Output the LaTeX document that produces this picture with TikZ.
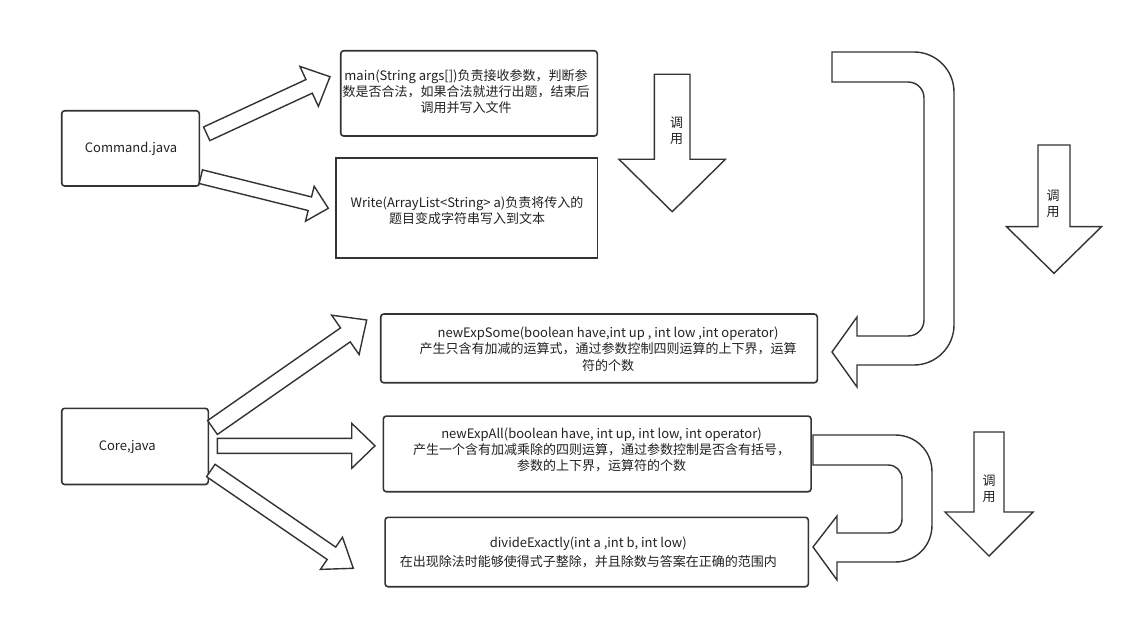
\documentclass[tikz,border=0pt]{standalone}
\usepackage{fontspec}
\setmainfont{Noto Sans CJK SC}
\usetikzlibrary{calc}
\definecolor{ln}{HTML}{333333}
\definecolor{tx}{HTML}{222222}
% #1 name, #2 tail coordinate, #3 tip coordinate, #4 half shaft width, #5 half head width, #6 head length
\newcommand\blockarrow[6]{%
  \coordinate (#1-c) at ($(#3)!#6!(#2)$);
  \draw[barrow] ($(#2)!#4!90:(#3)$) -- ($(#1-c)!#4!-90:(#2)$) -- ($(#1-c)!#5!-90:(#2)$)
    -- (#3) -- ($(#1-c)!#5!90:(#2)$) -- ($(#1-c)!#4!90:(#2)$) -- ($(#2)!#4!-90:(#3)$) -- cycle;
}
\begin{document}
\begin{tikzpicture}[x=1pt,y=-1pt,
  box/.style={draw=ln, line width=1.6pt, rounded corners=3pt, fill=white, inner sep=0pt},
  sqbox/.style={draw=ln, line width=1.6pt, fill=white, inner sep=0pt},
  barrow/.style={draw=ln, line width=1.4pt, fill=white, line join=miter},
  txt/.style={text=tx, align=center, inner sep=0pt, font=\fontsize{13}{16.3}\selectfont},
  vtxt/.style={text=tx, align=center, inner sep=0pt, font=\fontsize{13}{16}\selectfont}]
\useasboundingbox (0,0) rectangle (1133,620);

% boxes
\node[box, minimum width=137.6pt, minimum height=75.3pt] (cmd) at (130.5,148.4) {};
\node[box, minimum width=256.6pt, minimum height=85.3pt] (mainb) at (469,93.4) {};
\node[sqbox, minimum width=261.6pt, minimum height=100pt] (writeb) at (466.5,208.3) {};
\node[box, minimum width=436.6pt, minimum height=68.7pt] (some) at (599,348.4) {};
\node[box, minimum width=146.6pt, minimum height=76.2pt] (core) at (135,446.4) {};
\node[box, minimum width=427.7pt, minimum height=75.7pt] (all) at (597.2,453.9) {};
\node[box, minimum width=423.3pt, minimum height=69.4pt] (divb) at (596.7,552) {};

% block arrows from Command.java
\coordinate (a1s) at (206.7,133.8); \coordinate (a1e) at (330,76.7);
\blockarrow{a1}{a1s}{a1e}{7.5pt}{22pt}{23pt}
\coordinate (a2s) at (200.8,176.7); \coordinate (a2e) at (328.3,208.3);
\blockarrow{a2}{a2s}{a2e}{7pt}{18pt}{19pt}

% block arrows from Core,java
\coordinate (a3s) at (212.5,427.5); \coordinate (a3e) at (366.7,320);
\blockarrow{a3}{a3s}{a3e}{8.5pt}{24pt}{26pt}
\coordinate (a4s) at (217.3,445.8); \coordinate (a4e) at (375,445.8);
\blockarrow{a4}{a4s}{a4e}{7.5pt}{22.5pt}{23.3pt}
\coordinate (a5s) at (210.8,470.5); \coordinate (a5e) at (353.3,568.3);
\blockarrow{a5}{a5s}{a5e}{7.5pt}{19.5pt}{26.5pt}

% down arrows
\coordinate (dAs) at (672.2,74.3); \coordinate (dAe) at (672.2,211.7);
\blockarrow{dA}{dAs}{dAe}{17.8pt}{53.2pt}{52.4pt}
\coordinate (dBs) at (1054,145); \coordinate (dBe) at (1054,273.3);
\blockarrow{dB}{dBs}{dBe}{16pt}{47.5pt}{46.6pt}
\coordinate (dCs) at (989,432); \coordinate (dCe) at (989,556);
\blockarrow{dC}{dCs}{dCe}{15pt}{44pt}{44pt}

% U-turn arrows
\draw[barrow] (832,52) -- (914,52) .. controls (936,52) and (954,70) .. (954,92)
  -- (954,325) .. controls (954,347) and (936,365) .. (914,365)
  -- (857,365) -- (857,387) -- (832,352) -- (857,317) -- (857,336)
  -- (908,336) .. controls (917,336) and (924,329) .. (924,320)
  -- (924,98) .. controls (924,89) and (917,82) .. (908,82) -- (832,82) -- cycle;
\draw[barrow] (813,435) -- (895,435) .. controls (916,435) and (932,451) .. (932,472)
  -- (932,525) .. controls (932,546) and (916,562) .. (895,562)
  -- (837,562) -- (837,580) -- (813,547) -- (837,516) -- (837,533)
  -- (888,533) .. controls (896,533) and (902,527) .. (902,519)
  -- (902,479) .. controls (902,471) and (896,465) .. (888,465) -- (813,465) -- cycle;

% texts
\node[txt] (cmdt) at (131,149) {Command.java};
\node[txt] (coret) at (127.3,447.5) {Core,java};
\node[txt] (maint) at (466,91.7) {main(String args[])负责接收参数，判断参\\数是否合法，如果合法就进行出题，结束后\\调用并写入文件};
\node[txt] (writet) at (467,210.5) {Write(ArrayList<String> a)负责将传入的\\题目变成字符串写入到文本};
\node[txt] (somet) at (608,349) {newExpSome(boolean have,int up , int low ,int operator)\\产生只含有加减的运算式，通过参数控制四则运算的上下界，运算\\符的个数};
\node[txt] (allt) at (601.5,450) {newExpAll(boolean have, int up, int low, int operator)\\产生一个含有加减乘除的四则运算，通过参数控制是否含有括号，\\参数的上下界，运算符的个数};
\node[txt, font=\fontsize{13}{18.4}\selectfont] (divt) at (588.3,552.5) {divideExactly(int a ,int b, int low)\\在出现除法时能够使得式子整除，并且除数与答案在正确的范围内};
\node[vtxt] (dAt) at (676.7,131) {调\\用};
\node[vtxt] (dBt) at (1053,204) {调\\用};
\node[vtxt] (dCt) at (989,488.5) {调\\用};
\end{tikzpicture}
\end{document}
